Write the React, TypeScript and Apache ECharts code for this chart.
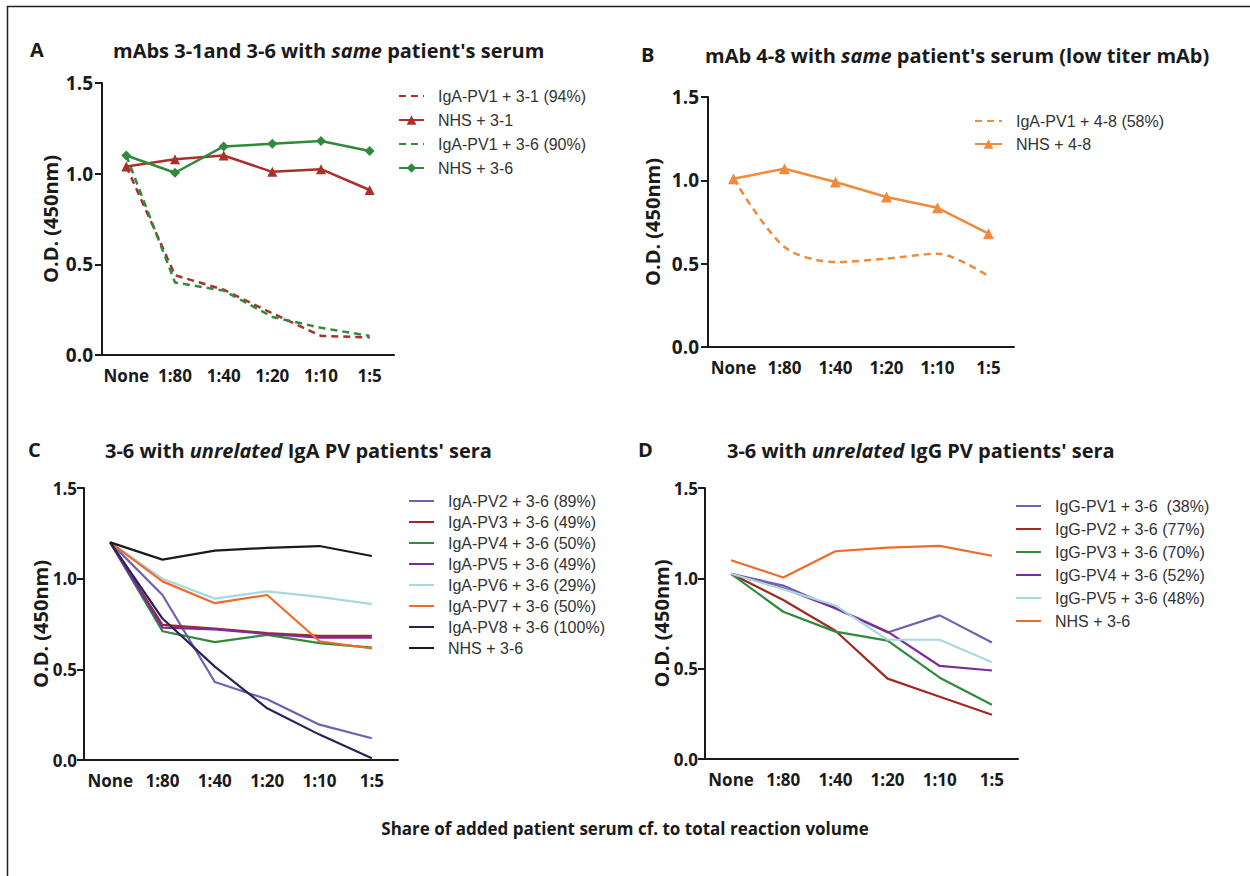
import React, { useEffect, useRef } from "react";
import * as echarts from "echarts";

const categories = ["None", "1:80", "1:40", "1:20", "1:10", "1:5"];
const yTicks = [0, 0.5, 1.0, 1.5];

// Panel A
const aIgAPV1_31 = [1.04, 0.44, 0.36, 0.23, 0.105, 0.097];
const aNHS_31 = [1.04, 1.08, 1.1, 1.01, 1.025, 0.91];
const aIgAPV1_36 = [1.1, 0.4, 0.355, 0.21, 0.15, 0.105];
const aNHS_36 = [1.1, 1.005, 1.15, 1.165, 1.18, 1.125];

// Panel B
const bIgAPV1_48 = [1.01, 0.6, 0.51, 0.53, 0.56, 0.425];
const bNHS_48 = [1.01, 1.07, 0.99, 0.9, 0.835, 0.68];

// Panel C
const cPV2 = [1.2, 0.91, 0.43, 0.335, 0.195, 0.12];
const cPV3 = [1.2, 0.745, 0.725, 0.7, 0.685, 0.685];
const cPV4 = [1.2, 0.71, 0.65, 0.69, 0.645, 0.62];
const cPV5 = [1.2, 0.73, 0.72, 0.695, 0.675, 0.675];
const cPV6 = [1.2, 1.0, 0.89, 0.93, 0.9, 0.86];
const cPV7 = [1.2, 0.985, 0.865, 0.91, 0.655, 0.615];
const cPV8 = [1.2, 0.78, 0.515, 0.285, 0.14, 0.01];
const cNHS = [1.2, 1.105, 1.155, 1.17, 1.18, 1.125];

// Panel D
const dPV1 = [1.025, 0.96, 0.835, 0.7, 0.795, 0.645];
const dPV2 = [1.025, 0.88, 0.71, 0.445, 0.345, 0.245];
const dPV3 = [1.025, 0.815, 0.705, 0.655, 0.45, 0.3];
const dPV4 = [1.025, 0.945, 0.835, 0.705, 0.515, 0.49];
const dPV5 = [1.025, 0.94, 0.85, 0.66, 0.66, 0.535];
const dNHS = [1.1, 1.005, 1.15, 1.17, 1.18, 1.125];

const FONT = "Open Sans";
const LFONT = "Liberation Sans";
const INK = "#1a1a1a";

const RED = "#ad2f2a";
const GREEN = "#2f8a3c";
const ORANGE_B = "#f08a3c";
const SLATE = "#6e62b0";
const DRED = "#a1291f";
const PURPLE = "#7a2c9a";
const CYAN = "#a7d9dd";
const ORANGE = "#f06a2c";
const NAVY = "#2b2158";

export default function App() {
  const ref = useRef<HTMLDivElement>(null);
  useEffect(() => {
    if (!ref.current) return;
    const chart = echarts.init(ref.current, null, { renderer: "svg" });

    const grids = [
      { left: 102, top: 83, width: 292, height: 272 },
      { left: 708, top: 97, width: 306, height: 250 },
      { left: 84, top: 488, width: 314, height: 272 },
      { left: 705, top: 488, width: 313, height: 271 },
    ];
    const nameGaps = [42, 46, 34, 34];

    const xAxis = grids.map((_, i) => ({
      type: "category",
      gridIndex: i,
      data: categories,
      boundaryGap: true,
      axisLine: { lineStyle: { color: INK, width: 2 } },
      axisTick: { alignWithLabel: true, interval: 0, length: 7, lineStyle: { color: INK, width: 2 } },
      axisLabel: {
        interval: 0,
        hideOverlap: false,
        color: INK,
        fontFamily: FONT,
        fontWeight: "bold",
        fontSize: 17,
        margin: 12,
      },
      splitLine: { show: false },
    }));
    const yAxis = grids.map((_, i) => ({
      type: "value",
      gridIndex: i,
      min: yTicks[0],
      max: yTicks[yTicks.length - 1],
      interval: 0.5,
      name: "O.D. (450nm)",
      nameLocation: "middle",
      nameRotate: 90,
      nameGap: nameGaps[i],
      nameMoveOverlap: false,
      nameTextStyle: { color: INK, fontFamily: FONT, fontWeight: "bold", fontSize: 20 },
      axisLine: { show: true, lineStyle: { color: INK, width: 2 } },
      axisTick: { show: true, length: 7, lineStyle: { color: INK, width: 2 } },
      axisLabel: {
        color: INK,
        fontFamily: FONT,
        fontWeight: "bold",
        fontSize: i >= 2 ? 17 : 19,
        margin: i >= 2 ? 7 : 9,
        formatter: (v: number) => v.toFixed(1),
      },
      splitLine: { show: false },
    }));

    const line = (
      name: string,
      idx: number,
      data: number[],
      color: string,
      opts: any = {}
    ) => ({
      type: "line",
      name,
      xAxisIndex: idx,
      yAxisIndex: idx,
      data,
      symbol: opts.symbol || "none",
      symbolSize: opts.symbolSize || 9,
      smooth: opts.smooth || false,
      itemStyle: { color },
      lineStyle: { color, width: opts.width || 2.5, type: opts.dashed ? [7, 5] : "solid" },
      z: opts.z || 2,
    });

    const series = [
      line("A:IgA-PV1 + 3-1 (94%)", 0, aIgAPV1_31, RED, { dashed: true }),
      line("A:NHS + 3-1", 0, aNHS_31, RED, { symbol: "triangle", symbolSize: 10 }),
      line("A:IgA-PV1 + 3-6 (90%)", 0, aIgAPV1_36, GREEN, { dashed: true }),
      line("A:NHS + 3-6", 0, aNHS_36, GREEN, { symbol: "diamond", symbolSize: 10 }),
      line("B:IgA-PV1 + 4-8 (58%)", 1, bIgAPV1_48, ORANGE_B, { dashed: true, smooth: 0.3 }),
      line("B:NHS + 4-8", 1, bNHS_48, ORANGE_B, { symbol: "triangle", symbolSize: 11 }),
      line("C:IgA-PV2 + 3-6 (89%)", 2, cPV2, SLATE, { width: 2.2 }),
      line("C:IgA-PV3 + 3-6 (49%)", 2, cPV3, DRED, { width: 2.2 }),
      line("C:IgA-PV4 + 3-6 (50%)", 2, cPV4, GREEN, { width: 2.2 }),
      line("C:IgA-PV5 + 3-6 (49%)", 2, cPV5, PURPLE, { width: 2.2 }),
      line("C:IgA-PV6 + 3-6 (29%)", 2, cPV6, CYAN, { width: 2.2 }),
      line("C:IgA-PV7 + 3-6 (50%)", 2, cPV7, ORANGE, { width: 2.2 }),
      line("C:IgA-PV8 + 3-6 (100%)", 2, cPV8, NAVY, { width: 2.2 }),
      line("C:NHS + 3-6", 2, cNHS, INK, { width: 2.2 }),
      line("D:IgG-PV1 + 3-6  (38%)", 3, dPV1, SLATE, { width: 2.2 }),
      line("D:IgG-PV2 + 3-6 (77%)", 3, dPV2, DRED, { width: 2.2 }),
      line("D:IgG-PV3 + 3-6 (70%)", 3, dPV3, GREEN, { width: 2.2 }),
      line("D:IgG-PV4 + 3-6 (52%)", 3, dPV4, PURPLE, { width: 2.2 }),
      line("D:IgG-PV5 + 3-6 (48%)", 3, dPV5, CYAN, { width: 2.2 }),
      line("D:NHS + 3-6", 3, dNHS, ORANGE, { width: 2.2 }),
    ];

    const legendFor = (prefix: string, left: number, top: number, gap: number, iw = 25) => ({
      show: true,
      orient: "vertical",
      left,
      top,
      padding: 0,
      itemGap: gap,
      itemWidth: iw,
      itemHeight: 12,
      selectedMode: false,
      data: series
        .filter((s) => s.name.startsWith(prefix + ":"))
        .map((s) =>
          s.symbol === "none" ? { name: s.name, itemStyle: { opacity: 0 } } : { name: s.name }
        ),
      formatter: (n: string) => n.slice(2),
      textStyle: { color: "#333", fontFamily: LFONT, fontSize: 16, padding: [0, 0, 0, 9] },
    });

    const titleStyle = {
      color: INK,
      fontFamily: FONT,
      fontWeight: "bold",
      fontSize: 20,
      rich: {
        i: { color: INK, fontFamily: FONT, fontWeight: "bold", fontStyle: "italic", fontSize: 20 },
      },
    };
    const title = [
      { text: "mAbs 3-1and 3-6 with {i|same} patient's serum", left: 113, top: 40 },
      { text: "mAb 4-8 with {i|same} patient's serum (low titer mAb)", left: 705, top: 45 },
      { text: "3-6 with {i|unrelated} IgA PV patients' sera", left: 105, top: 440 },
      { text: "3-6 with {i|unrelated} IgG PV patients' sera", left: 727, top: 440 },
    ].map((t) => ({ ...t, padding: 0, textStyle: titleStyle }));

    const letter = (t: string, x: number, y: number) => ({
      type: "text",
      left: x,
      top: y,
      style: { text: t, fill: INK, font: `bold 20px "${FONT}"` },
    });

    chart.setOption({
      animation: false,
      backgroundColor: "#ffffff",
      title,
      grid: grids,
      xAxis,
      yAxis,
      legend: [
        legendFor("A", 398, 88, 8),
        legendFor("B", 974, 113, 7, 27),
        legendFor("C", 408, 493, 5),
        legendFor("D", 1015, 498, 7),
      ],
      series,
      graphic: [
        { type: "line", shape: { x1: 7, y1: 6.5, x2: 1250, y2: 6.5 }, style: { stroke: "#222", lineWidth: 1.5 } },
        { type: "line", shape: { x1: 7.5, y1: 6, x2: 7.5, y2: 876 }, style: { stroke: "#222", lineWidth: 1.5 } },
        letter("A", 30, 39),
        letter("B", 641, 44),
        letter("C", 28, 439),
        letter("D", 638, 439),
        {
          type: "text",
          left: "center",
          top: 820,
          style: {
            text: "Share of added patient serum cf. to total reaction volume",
            fill: INK,
            font: `bold 17px "${FONT}"`,
          },
        },
      ],
    });
    return () => chart.dispose();
  }, []);
  return (
    <div
      ref={ref}
      style={{ position: "absolute", left: 0, top: 0, width: 1250, height: 876, background: "#fff" }}
    />
  );
}
